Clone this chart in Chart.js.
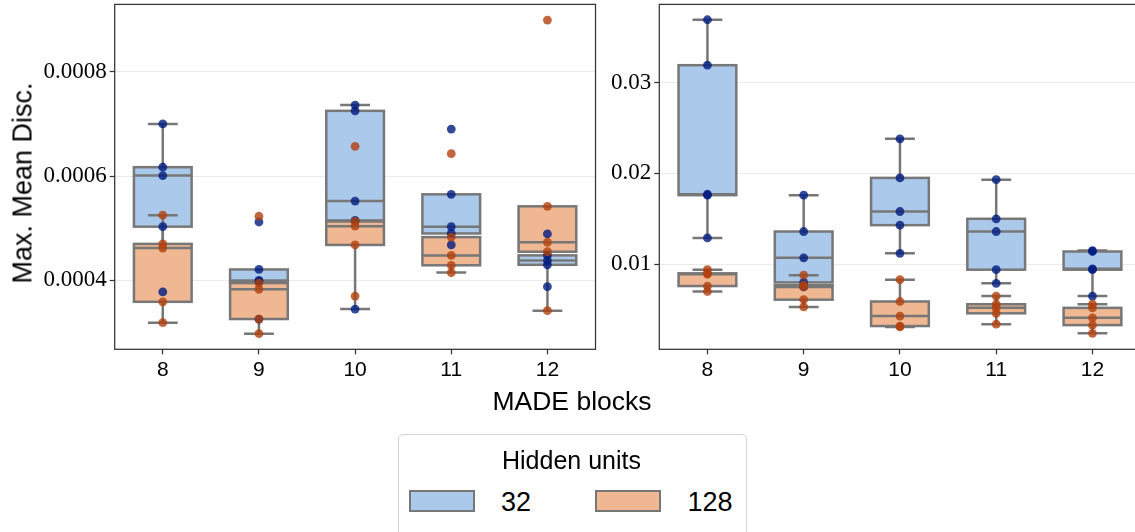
<!DOCTYPE html>
<html>
<head>
<meta charset="utf-8">
<script src="https://cdn.jsdelivr.net/npm/chart.js@4.4.0/dist/chart.umd.min.js"></script>
<style>
  html, body { margin: 0; padding: 0; width: 1135px; height: 532px; overflow: hidden; background: #fff; }
  #left { position: absolute; left: 0; top: 0; }
  #right { position: absolute; left: 600px; top: 0; }
  .txt { position: absolute; font-family: "Liberation Sans", Arial, sans-serif; color: #000; line-height: 1; white-space: nowrap; }
  #ylabel { left: 22.5px; top: 183px; font-size: 27px; transform: translate(-50%, -50%) rotate(-90deg); }
  #xlabel { left: 572px; top: 387.6px; font-size: 26.5px; transform: translateX(-50%); }
  #legend { position: absolute; left: 397.5px; top: 434px; width: 347px; height: 130px; border: 1px solid #d4d4d4; border-radius: 5px; background: #fff; }
  #legtitle { left: 571.5px; top: 448px; font-size: 25px; transform: translateX(-50%); }
  .patch { position: absolute; top: 490px; width: 62px; height: 18px; border: 2.5px solid #777; }
  .legtxt { top: 489px; font-size: 27px; }
</style>
</head>
<body>
<canvas id="left" width="600" height="400"></canvas>
<canvas id="right" width="545" height="400"></canvas>

<div class="txt" id="ylabel">Max. Mean Disc.</div>
<div class="txt" id="xlabel">MADE blocks</div>

<div id="legend"></div>
<div class="txt" id="legtitle">Hidden units</div>
<div class="patch" style="left:409px; background:#abc9ea;"></div>
<div class="txt legtxt" style="left:501px;">32</div>
<div class="patch" style="left:595px; background:#efb792;"></div>
<div class="txt legtxt" style="left:687.5px;">128</div>

<script>
const blocks = ["8", "9", "10", "11", "12"];

// left panel, 5 runs per MADE block count
const leftH32 = [
  [0.000700, 0.000617, 0.000601, 0.000503, 0.000378],
  [0.000512, 0.000421, 0.000400, 0.000398, 0.000326],
  [0.000736, 0.000725, 0.000552, 0.000515, 0.000345],
  [0.000690, 0.000565, 0.000503, 0.000490, 0.000468],
  [0.000489, 0.000448, 0.000438, 0.000430, 0.000388],
];
const leftH128 = [
  [0.000525, 0.000470, 0.000462, 0.000359, 0.000319],
  [0.000523, 0.000395, 0.000383, 0.000326, 0.000298],
  [0.000657, 0.000513, 0.000504, 0.000468, 0.000370],
  [0.000643, 0.000483, 0.000448, 0.000429, 0.000415],
  [0.000899, 0.000542, 0.000473, 0.000455, 0.000342],
];

// right panel
const rightH32 = [
  [0.0369, 0.0319, 0.0177, 0.0176, 0.0129],
  [0.0176, 0.0136, 0.0107, 0.0080, 0.0075],
  [0.0238, 0.0195, 0.0158, 0.0143, 0.0112],
  [0.0193, 0.0150, 0.0136, 0.0094, 0.0079],
  [0.0115, 0.0114, 0.0095, 0.0094, 0.0065],
];
const rightH128 = [
  [0.0094, 0.0090, 0.0089, 0.0076, 0.0070],
  [0.0088, 0.0077, 0.0075, 0.0061, 0.0053],
  [0.0083, 0.0059, 0.0043, 0.0032, 0.0031],
  [0.0065, 0.0056, 0.0052, 0.0046, 0.0034],
  [0.0056, 0.0052, 0.0041, 0.0033, 0.0024],
];

const leftTicks = [0.0004, 0.0006, 0.0008];
const leftTickLabels = ["0.0004", "0.0006", "0.0008"];
const rightTicks = [0.01, 0.02, 0.03];
const rightTickLabels = ["0.01", "0.02", "0.03"];

const blueFill = "#abc9ea";
const orangeFill = "#efb792";
const bluePoint = "rgba(0, 28, 127, 0.8)";
const orangePoint = "rgba(177, 64, 13, 0.8)";
const edge = "#777";

function quantile(s, p) {
  const pos = (s.length - 1) * p;
  const lo = Math.floor(pos), hi = Math.ceil(pos);
  return s[lo] + (s[hi] - s[lo]) * (pos - lo);
}

function boxStats(vals) {
  const s = [...vals].sort((a, b) => a - b);
  const q1 = quantile(s, 0.25), med = quantile(s, 0.5), q3 = quantile(s, 0.75);
  const iqr = q3 - q1;
  let lo = s.find(v => v >= q1 - 1.5 * iqr);
  let hi = [...s].reverse().find(v => v <= q3 + 1.5 * iqr);
  if (lo > q1) lo = q1;
  if (hi < q3) hi = q3;
  return { q1, med, q3, lo, hi };
}

const boxPlugin = {
  id: "boxes",
  beforeDatasetsDraw(chart, args, opts) {
    const { ctx } = chart;
    const x = chart.scales.x, y = chart.scales.y;
    const step = x.getPixelForValue(1) - x.getPixelForValue(0);
    const boxW = step * 0.6, capW = step * 0.31;
    ctx.save();
    ctx.lineWidth = 2.5;
    ctx.strokeStyle = edge;
    opts.series.forEach(ser => {
      ser.rows.forEach((vals, i) => {
        const st = boxStats(vals);
        const cx = x.getPixelForValue(i);
        const yq1 = y.getPixelForValue(st.q1), yq3 = y.getPixelForValue(st.q3);
        const ylo = y.getPixelForValue(st.lo), yhi = y.getPixelForValue(st.hi);
        ctx.beginPath();
        ctx.moveTo(cx, yq3); ctx.lineTo(cx, yhi);
        ctx.moveTo(cx, yq1); ctx.lineTo(cx, ylo);
        if (st.hi > st.q3) { ctx.moveTo(cx - capW / 2, yhi); ctx.lineTo(cx + capW / 2, yhi); }
        if (st.lo < st.q1) { ctx.moveTo(cx - capW / 2, ylo); ctx.lineTo(cx + capW / 2, ylo); }
        ctx.stroke();
        ctx.fillStyle = ser.fill;
        ctx.fillRect(cx - boxW / 2, yq3, boxW, yq1 - yq3);
        ctx.strokeRect(cx - boxW / 2, yq3, boxW, yq1 - yq3);
        const ym = y.getPixelForValue(st.med);
        ctx.beginPath();
        ctx.moveTo(cx - boxW / 2, ym); ctx.lineTo(cx + boxW / 2, ym);
        ctx.stroke();
      });
    });
    ctx.restore();
  },
  afterDatasetsDraw(chart) {
    const { ctx, chartArea: a } = chart;
    ctx.save();
    ctx.strokeStyle = "#333";
    ctx.lineWidth = 1.25;
    ctx.strokeRect(a.left, a.top, a.right - a.left, a.bottom - a.top);
    ctx.restore();
  },
};

function points(rows) {
  return rows.flatMap((vals, i) => vals.map(v => ({ x: blocks[i], y: v })));
}

function makeChart(id, h32, h128, yMin, yMax, ticks, tickLabels, axisW, padRight) {
  return new Chart(document.getElementById(id), {
    type: "scatter",
    data: {
      labels: blocks,
      datasets: [
        { data: points(h32), backgroundColor: bluePoint, borderWidth: 0, pointRadius: 4.4, order: 2 },
        { data: points(h128), backgroundColor: orangePoint, borderWidth: 0, pointRadius: 4.4, order: 1 },
      ],
    },
    options: {
      responsive: false,
      animation: false,
      events: [],
      layout: { padding: { top: 3.3, right: padRight, left: 0, bottom: 0 } },
      plugins: {
        legend: { display: false },
        tooltip: { enabled: false },
        boxes: { series: [{ rows: h32, fill: blueFill }, { rows: h128, fill: orangeFill }] },
      },
      scales: {
        x: {
          type: "category",
          labels: blocks,
          offset: true,
          border: { display: false },
          grid: { drawOnChartArea: false, tickColor: "#333", tickLength: 5, tickWidth: 1.25 },
          ticks: { color: "#000", padding: 3, font: { family: "Liberation Sans", size: 21 } },
          afterFit: s => { s.height = 400 - 349.3; s.paddingLeft = 0; s.paddingRight = 0; },
        },
        y: {
          min: yMin,
          max: yMax,
          border: { display: false },
          grid: { color: "#ebebeb", lineWidth: 1, tickColor: "#333", tickLength: 5, tickWidth: 1.25 },
          ticks: {
            color: "#000",
            padding: 3,
            font: { family: "Liberation Serif", size: 23 },
            callback: (v, i) => tickLabels[i],
          },
          afterBuildTicks: s => { s.ticks = ticks.map(v => ({ value: v })); },
          afterFit: s => { s.width = axisW; s.paddingTop = 0; s.paddingBottom = 0; },
        },
      },
    },
    plugins: [boxPlugin],
  });
}

makeChart("left", leftH32, leftH128, 0.000268, 0.000929, leftTicks, leftTickLabels, 114.7, 4.5);
makeChart("right", rightH32, rightH128, 0.00064, 0.03859, rightTicks, rightTickLabels, 59.3, 4.2);
</script>
</body>
</html>
